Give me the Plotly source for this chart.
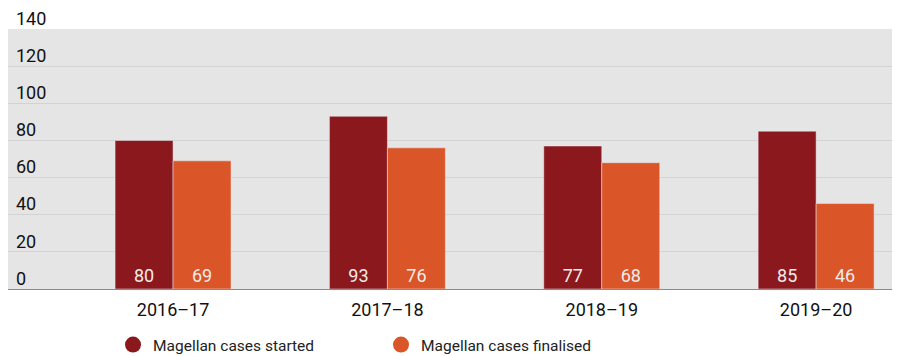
import plotly.graph_objects as go

categories = ["2016–17", "2017–18", "2018–19", "2019–20"]
started = [80, 93, 77, 85]
finalised = [69, 76, 68, 46]
series_names = ["Magellan cases started", "Magellan cases finalised"]
colors = ["#8B181C", "#DA5527"]
y_ticks = [0, 20, 40, 60, 80, 100, 120, 140]

fig = go.Figure()
for name, vals, col in zip(series_names, [started, finalised], colors):
    fig.add_trace(go.Bar(
        x=categories, y=vals, name=name, marker_color=col,
        text=[str(v) for v in vals], textposition="inside",
        insidetextanchor="start",
        textfont=dict(color="#F2ECEA", size=18, family="Roboto"),
        showlegend=False,
    ))
for name, col in zip(series_names, colors):
    fig.add_trace(go.Scatter(
        x=[None], y=[None], mode="markers", name=name,
        marker=dict(color=col, size=16, symbol="circle"),
    ))

# the page body adds an 8px margin, so the figure is offset and sized to fit
fig.update_layout(
    width=884, height=348,
    margin=dict(l=0, r=0, t=21, b=67, autoexpand=False),
    paper_bgcolor="white", plot_bgcolor="#E5E5E5",
    barmode="group", bargap=0.459, bargroupgap=0,
    font=dict(family="Roboto", size=17, color="#111111"),
    xaxis=dict(range=[-0.770, 3.354], showgrid=False, showline=True,
               linecolor="#8A8A8A", linewidth=1, ticks="", automargin=False,
               ticklabelstandoff=4,
               tickfont=dict(size=18, color="#111111")),
    yaxis=dict(range=[0, 140], tickvals=y_ticks, showgrid=True,
               gridcolor="#D3D3D3", gridwidth=1, zeroline=False,
               ticklabelposition="inside top", ticks="", automargin=False,
               ticklabelstandoff=5, ticklabelshift=2, ticklabeloverflow="allow",
               tickfont=dict(size=18, color="#111111")),
    legend=dict(orientation="h", x=0.1188, y=-0.15, xanchor="left", yanchor="top",
                entrywidth=223, entrywidthmode="pixels",
                font=dict(size=15.5, color="#222222")),
    uniformtext=dict(mode="show", minsize=10),
)

fig.write_html("out.html")
